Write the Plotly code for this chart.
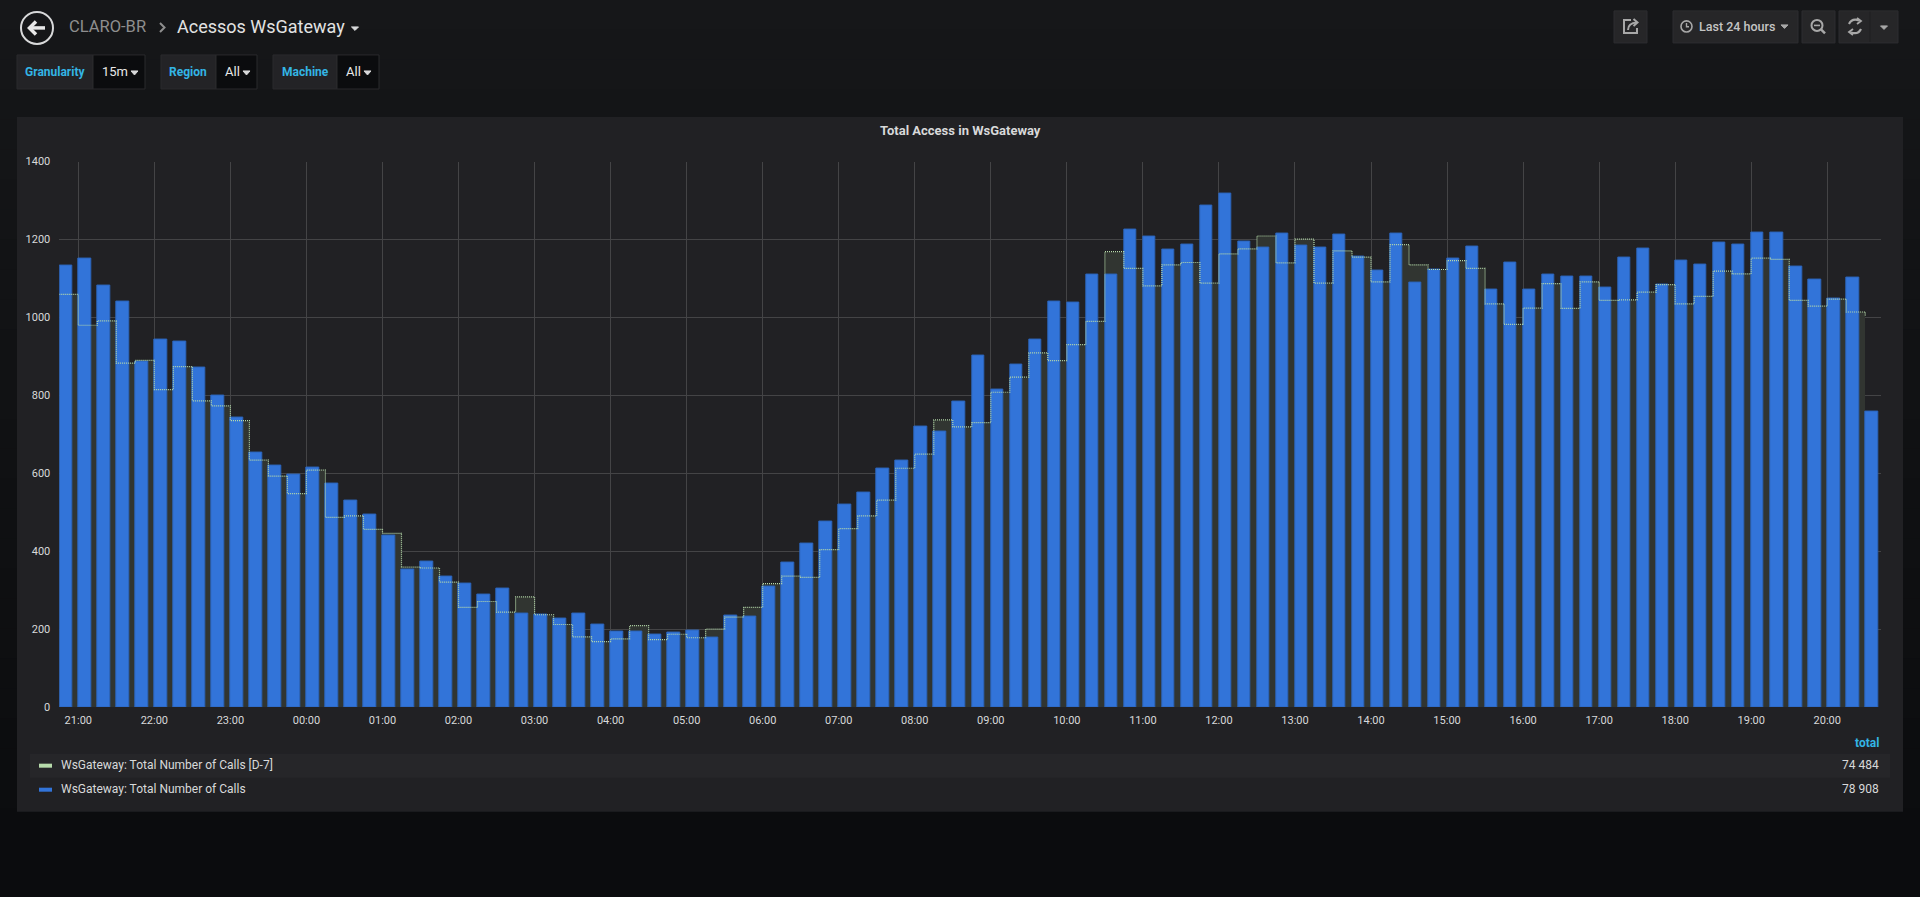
import pandas as pd
import plotly.graph_objects as go

W, H = 1920, 897
# the photographed page came out slightly squeezed vertically; measured offset/scale
Y_TOP, Y_SCALE = 6.1, 0.9845

# 15m buckets, last 24 hours (first bucket 20:45)
times = pd.date_range("2018-10-01 20:45", periods=96, freq="15min")

calls = [1133, 1150, 1083, 1040, 886, 943, 937, 872, 800, 743, 652, 620, 596, 614, 573, 529, 495, 441,
         352, 374, 336, 318, 289, 303, 240, 237, 226, 241, 211, 193, 194, 185, 192, 196, 178, 234, 233, 310,
         370, 419, 477, 521, 550, 612, 632, 719, 708, 783, 901, 814, 878, 943, 1042, 1038, 1109, 1109, 1225, 1207,
         1174, 1188, 1288, 1319, 1194, 1180, 1216, 1185, 1179, 1213, 1155, 1121, 1216, 1090, 1122, 1151, 1183, 1072, 1142, 1072,
         1109, 1104, 1104, 1076, 1154, 1176, 1085, 1147, 1135, 1191, 1187, 1219, 1219, 1130, 1098, 1049, 1102, 759]

calls_d7 = [1059, 980, 991, 883, 890, 815, 874, 786, 773, 735, 634, 593, 548, 608, 487, 491, 456, 446,
            359, 357, 321, 256, 271, 244, 283, 237, 212, 180, 168, 175, 209, 173, 187, 178, 200, 231, 256, 317,
            336, 333, 404, 458, 491, 531, 613, 649, 737, 719, 730, 808, 847, 909, 889, 930, 990, 1169, 1126, 1081,
            1135, 1141, 1088, 1163, 1176, 1209, 1140, 1201, 1088, 1171, 1155, 1091, 1187, 1135, 1123, 1146, 1126, 1035, 982, 1024,
            1087, 1023, 1091, 1044, 1045, 1065, 1084, 1035, 1054, 1119, 1112, 1152, 1149, 1044, 1029, 1047, 1014, 1004]

series_names = ["WsGateway: Total Number of Calls [D-7]", "WsGateway: Total Number of Calls"]
series_totals = ["74 484", "78 908"]
series_colors = ["#b7dbab", "#3274d9"]

variables = [("Granularity", "15m"), ("Region", "All"), ("Machine", "All")]


def px(x):
    return x / W


def py(y):
    return 1 - (y - Y_TOP) / Y_SCALE / H


def rect(x0, y0, x1, y1, fill, line=None, layer="below"):
    return dict(type="rect", xref="paper", yref="paper",
                x0=px(x0), x1=px(x1), y0=py(y1), y1=py(y0),
                fillcolor=fill, layer=layer,
                line=dict(width=1 if line else 0, color=line or fill))


def path(s, color, width=2, fill=None):
    # path in pixel coords -> paper coords
    out, is_x = [], True
    for tok in s.split():
        if tok.isalpha():
            out.append(tok)
            is_x = True
        else:
            v = float(tok)
            out.append(f"{px(v):.5f}" if is_x else f"{py(v):.5f}")
            is_x = not is_x
    return dict(type="path", xref="paper", yref="paper", path=" ".join(out),
                line=dict(color=color, width=width),
                fillcolor=fill if fill else "rgba(0,0,0,0)", layer="above")


def circle(cx, cy, r, color, width=2):
    return dict(type="circle", xref="paper", yref="paper",
                x0=px(cx - r), x1=px(cx + r), y0=py(cy + r), y1=py(cy - r),
                line=dict(color=color, width=width), layer="above")


def text(x, y, s, size=12, color="#d8d9da", anchor="left", weight="normal", family="Roboto"):
    return dict(x=px(x), y=py(y), xref="paper", yref="paper", text=s, showarrow=False,
                xanchor=anchor, yanchor="middle",
                font=dict(family=family, size=size, color=color, weight=weight))


fig = go.Figure()

# fill under the D-7 step line (one full-width bar per bucket)
fig.add_trace(go.Bar(x=times[:-1], y=calls_d7[:-1], width=900000, offset=0,
                     marker=dict(color="#313531", line=dict(width=0)),
                     name=series_names[0], hoverinfo="skip"))
fig.add_trace(go.Bar(x=times, y=calls, width=595000, offset=0,
                     marker=dict(color=series_colors[1], line=dict(width=1, color="#2c64bb")),
                     name=series_names[1]))
fig.add_trace(go.Scatter(x=times, y=calls_d7, mode="lines", line_shape="hv",
                         line=dict(color=series_colors[0], width=1.2, dash="1px,1px"),
                         name=series_names[0]))

shapes = []
# page background (soft vertical gradient)
n = 30
for i in range(n):
    f = i / (n - 1)
    c = (int(22 - 11 * f), int(23 - 11 * f), int(25 - 11 * f))
    shapes.append(rect(0, H * i / n, W, H * (i + 1) / n + 1, "rgb(%d,%d,%d)" % c))

# panel
shapes.append(rect(17, 117, 1903, 811, "#212124"))
# legend row highlight
shapes.append(rect(30, 753, 1890, 777, "#262629"))
# legend icons
shapes.append(rect(39, 763, 52, 767, series_colors[0], layer="above"))
shapes.append(rect(39, 787, 52, 791, series_colors[1], layer="above"))

# back button
shapes.append(circle(37, 28, 16, "#d8d9da", 2))
shapes.append(path("M 45 28 L 30 28", "#e8e8e8", 3.5))
shapes.append(path("M 36 21.5 L 29.5 28 L 36 34.5", "#e8e8e8", 3.5))
# breadcrumb chevron and caret
shapes.append(path("M 160 23 L 164.5 27.5 L 160 32", "#8e8e8e", 2))
shapes.append(path("M 351.5 27 L 358.5 27 L 355 30.5 Z", "#d8d9da", 1, "#d8d9da"))

# variable boxes
var_boxes = [(17, 93, 145), (161, 216, 257), (273, 337, 379)]
carets_x = [131, 243, 364]
for (x0, xm, x1), cx, (lab, val) in zip(var_boxes, carets_x, variables):
    shapes.append(rect(x0, 55, xm, 89, "#232326", "#2a2a2d"))
    shapes.append(rect(xm, 55, x1, 89, "#0b0c0e", "#2a2a2d"))
    shapes.append(path(f"M {cx} 71 L {cx + 7} 71 L {cx + 3.5} 75 Z", "#d8d9da", 1, "#d8d9da"))

# top right buttons
for x0, x1 in [(1614, 1647), (1673, 1798), (1802, 1835), (1839, 1898)]:
    shapes.append(rect(x0, 11, x1, 43, "#262628", "#2d2d30", layer="above"))
shapes.append(path("M 1870 12 L 1870 42", "#1f1f21", 1))
# share icon
shapes.append(path("M 1631 20 L 1624 20 L 1624 33 L 1637 33 L 1637 28", "#a8a8a8", 2))
shapes.append(path("M 1628 30 Q 1628 23 1637 22.5", "#a8a8a8", 2))
shapes.append(path("M 1633.5 19 L 1637.5 22.5 L 1633.5 26", "#a8a8a8", 2))
# clock icon
shapes.append(circle(1686.5, 26.5, 5.5, "#a8a8a8", 1.6))
shapes.append(path("M 1686.5 23 L 1686.5 26.8 L 1689 26.8", "#a8a8a8", 1.4))
shapes.append(path("M 1781 25 L 1788 25 L 1784.5 28.5 Z", "#a8a8a8", 1, "#a8a8a8"))
# zoom out icon
shapes.append(circle(1817, 25.5, 5.5, "#a8a8a8", 2))
shapes.append(path("M 1821 29.5 L 1825 33.5", "#a8a8a8", 2.5))
shapes.append(path("M 1814 25.5 L 1820 25.5", "#a8a8a8", 1.6))
# refresh icon
shapes.append(path("M 1849 24 Q 1852 18 1859 20.5", "#a8a8a8", 2.2))
shapes.append(path("M 1857 18 L 1861 21 L 1857 24", "#a8a8a8", 1.8))
shapes.append(path("M 1861 29 Q 1858 35 1851 32.5", "#a8a8a8", 2.2))
shapes.append(path("M 1853 35 L 1849 32 L 1853 29", "#a8a8a8", 1.8))
shapes.append(path("M 1880.5 26 L 1887.5 26 L 1884 29.5 Z", "#a8a8a8", 1, "#a8a8a8"))

annotations = [
    text(67, 27, "CLARO-BR", 16.5, "#8e8e8e"),
    text(175, 27, "Acessos WsGateway", 18, "#e3e3e3"),
    text(1697, 27, "Last 24 hours", 12.5, "#c4c4c4", weight=500),
    text(960, 130, "Total Access in WsGateway", 13, "#d8d9da", "center", "bold"),
    text(1881, 742, "total", 12, "#33b5e5", "right", "bold"),
]
label_centers = [54.5, 188, 305]
value_x = [100, 223, 344]
for (lab, val), lc, vx in zip(variables, label_centers, value_x):
    annotations.append(text(lc, 72, lab, 12, "#33b5e5", "center", "bold"))
    annotations.append(text(vx, 72, val, 13, "#e8e8e8"))

for i, (name, total) in enumerate(zip(series_names, series_totals)):
    yy = 764 + 24.5 * i
    annotations.append(text(59, yy, name, 12, "#d8d9da"))
    annotations.append(text(1881, yy, total, 12, "#d8d9da", "right"))

fig.update_layout(
    autosize=True,
    margin=dict(l=0, r=0, t=0, b=0),
    paper_bgcolor="#0b0c0e",
    plot_bgcolor="rgba(0,0,0,0)",
    barmode="overlay",
    bargap=0,
    showlegend=False,
    hovermode=False,
    font=dict(family="Roboto", color="#d8d9da"),
    shapes=shapes,
    annotations=annotations,
    xaxis=dict(
        domain=[px(59.3), px(1881)],
        type="date",
        range=["2018-10-01 20:45", "2018-10-02 20:42:24"],
        tick0="2018-10-01 21:00",
        dtick=3600000,
        tickformat="%H:%M",
        showgrid=True, gridcolor="#444446", gridwidth=1,
        zeroline=False, showline=False, ticks="",
        ticklabelstandoff=5,
        tickfont=dict(family="Roboto", size=11, color="#d8d9da"),
        fixedrange=True,
    ),
    yaxis=dict(
        domain=[py(706.5), py(161.5)],
        range=[0, 1400],
        dtick=200,
        showgrid=True, gridcolor="#444446", gridwidth=1,
        zeroline=False, showline=False, ticks="",
        ticklabelstandoff=8,
        tickfont=dict(family="Roboto", size=11, color="#d8d9da"),
        fixedrange=True,
    ),
)

fig.write_html("out.html", config={"displayModeBar": False},
               default_width="100vw", default_height="100vh",
               post_script="document.body.style.margin='0';document.body.style.overflow='hidden';")
